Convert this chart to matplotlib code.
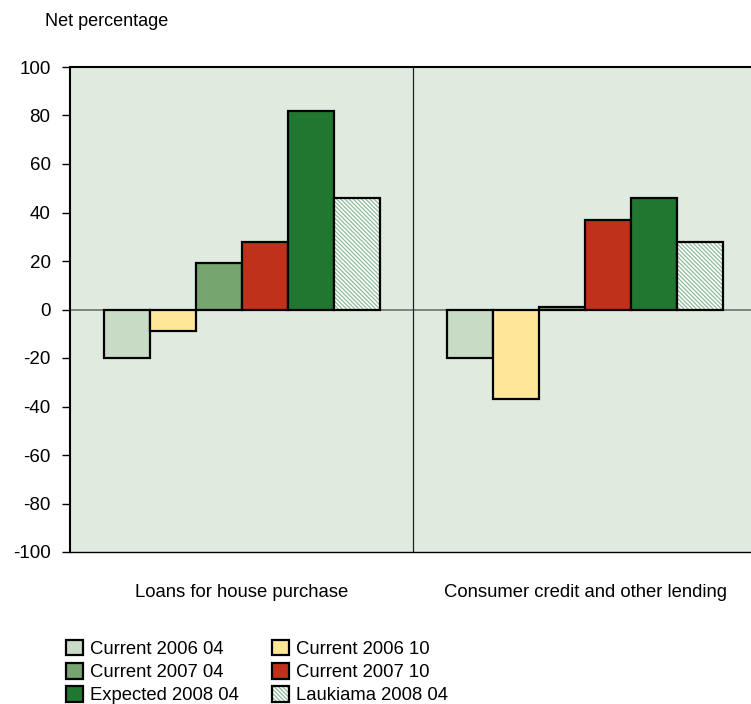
import matplotlib
matplotlib.use("Agg")
import matplotlib.pyplot as plt
import numpy as np
from matplotlib.patches import Patch
from matplotlib.legend_handler import HandlerTuple

plt.rcParams['font.family'] = ['Liberation Sans', 'DejaVu Sans']
plt.rcParams['hatch.linewidth'] = 0.9

categories = ["Loans for house purchase", "Consumer credit and other lending"]
series = ["Current 2006 04", "Current 2006 10", "Current 2007 04",
          "Current 2007 10", "Expected 2008 04", "Laukiama 2008 04"]
values = {
    "Current 2006 04": [-20, -20],
    "Current 2006 10": [-9, -37],
    "Current 2007 04": [19, 1],
    "Current 2007 10": [28, 37],
    "Expected 2008 04": [82, 46],
    "Laukiama 2008 04": [46, 28],
}
colors = ["#C8DBC5", "#FFE699", "#77A570", "#C0311C", "#227730", "#FFFFFF"]
yticks = list(range(-100, 101, 20))

HATCH = "\\" * 8
HATCH_COLOR = "#8FBC99"

W, H = 751, 704
fig = plt.figure(figsize=(W / 100, H / 100), dpi=100)
ax = fig.add_axes([70 / W, 1 - 552 / H, (757 - 70) / W, (552 - 67) / H])
ax.set_facecolor("#E0EBE0")

x = np.arange(len(categories))
bw = 0.134
n = len(series)
handles = []
for i, s in enumerate(series):
    xs = x + (i - (n - 1) / 2) * bw
    if s.startswith("Laukiama"):
        ax.bar(xs, values[s], bw, color="white", edgecolor=HATCH_COLOR,
               hatch=HATCH, linewidth=0, zorder=3)
        ax.bar(xs, values[s], bw, fill=False, edgecolor="black",
               linewidth=1.6, zorder=4)
        h = (Patch(facecolor="white", edgecolor=HATCH_COLOR, hatch=HATCH, linewidth=0),
             Patch(fill=False, edgecolor="black", linewidth=1.6))
    else:
        ax.bar(xs, values[s], bw, color=colors[i], edgecolor="black",
               linewidth=1.6, zorder=3)
        h = Patch(facecolor=colors[i], edgecolor="black", linewidth=1.6)
    handles.append(h)

ax.axhline(0, color="#707070", linewidth=1.2, zorder=2)
ax.axvline(0.5, color="#202020", linewidth=0.9, zorder=2)

ax.set_xlim(-0.5, 1.5)
ax.set_ylim(-100, 100)
ax.set_yticks(yticks)
ax.set_yticklabels([str(v) for v in yticks], fontsize=13.5)
ax.tick_params(axis="y", direction="out", length=6, width=1, pad=8)
ax.set_xticks([])
for sp in ["left", "top"]:
    ax.spines[sp].set_linewidth(1.5)
ax.spines["bottom"].set_linewidth(1.0)
ax.spines["right"].set_visible(False)

for xi, c in zip(x, categories):
    ax.text(xi, -116.8, c, ha="center", va="center", fontsize=13.3)

fig.text(45 / W, 1 - 22 / H, "Net percentage", ha="left", va="center", fontsize=13)

order = [0, 2, 4, 1, 3, 5]
leg = fig.legend([handles[k] for k in order], [series[k] for k in order],
                 ncol=2, loc="upper left", bbox_to_anchor=(66 / W, 1 - 640 / H),
                 frameon=False, fontsize=13.3, handlelength=0.9, handleheight=0.9,
                 handletextpad=0.4, labelspacing=0.28, columnspacing=1.8,
                 borderaxespad=0, borderpad=0,
                 handler_map={tuple: HandlerTuple(ndivide=1, pad=0)})

fig.savefig("out.png", dpi=100)
